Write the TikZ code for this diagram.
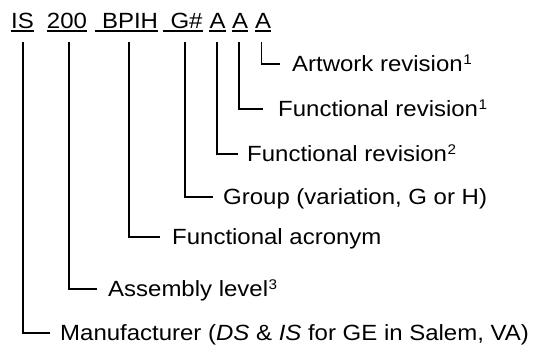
\documentclass[tikz,border=0pt]{standalone}
\usepackage{fontspec}
\setmainfont{Liberation Sans}[FakeStretch=1.09]
\newcommand\supr[1]{\kern0.5pt\raisebox{7pt}{\fontsize{14}{14}\selectfont #1}}
\begin{document}
\begin{tikzpicture}[x=1pt,y=-1pt,
  every node/.style={inner sep=0pt,font=\fontsize{22}{26}\selectfont,text height=15pt,text depth=0pt},
  code/.style={anchor=base},
  lbl/.style={anchor=west},
  conn/.style={line width=1.3pt},
  uline/.style={line width=1.3pt}]
\useasboundingbox (0,0) rectangle (539,348);
% code letters
\node[code] (is)   at (22.5,28) {IS};
\node[code] (lvl)  at (67,28)   {200};
\node[code] (bpih) at (130,28)  {BPIH};
\node[code] (grp)  at (186.5,28){G\#};
\node[code] (a1)   at (217.5,28){A};
\node[code] (a2)   at (240,28)  {A};
\node[code] (a3)   at (263,28)  {A};
% underlines
\draw[uline] ([yshift=-3pt]is.base west) -- ([yshift=-3pt]is.base east);
\draw[uline] ([yshift=-3pt]lvl.base west) -- ([yshift=-3pt]lvl.base east);
\draw[uline] ([xshift=-7pt,yshift=-3pt]bpih.base west) -- ([yshift=-3pt]bpih.base east);
\draw[uline] ([xshift=-7pt,yshift=-3pt]grp.base west) -- ([yshift=-3pt]grp.base east);
\draw[uline] ([yshift=-3pt]a1.base west) -- ([yshift=-3pt]a1.base east);
\draw[uline] ([yshift=-3pt]a2.base west) -- ([yshift=-3pt]a2.base east);
\draw[uline] ([yshift=-3pt]a3.base west) -- ([yshift=-3pt]a3.base east);
% labels
\node[lbl] (lart) at (292,64)  {Artwork revision\supr{1}};
\node[lbl] (lfr1) at (278,109) {Functional revision\supr{1}};
\node[lbl] (lfr2) at (247,154) {Functional revision\supr{2}};
\node[lbl] (lgrp) at (223,197) {Group (variation, G or H)};
\node[lbl] (lacr) at (172,237) {Functional acronym};
\node[lbl] (lasm) at (108,289) {Assembly level\supr{3}};
\node[lbl] (lman) at (60,333)  {Manufacturer (\textit{DS} \& \textit{IS} for GE in Salem, VA)};
% connectors
\draw[conn] ([xshift=-1.5pt,yshift=-14pt]a3.south) |- ([xshift=-12pt]lart.west);
\draw[conn] ([xshift=-1pt,yshift=-14pt]a2.south) |- ([xshift=-15pt]lfr1.west);
\draw[conn] ([xshift=-0.5pt,yshift=-14pt]a1.south) |- ([xshift=-9pt]lfr2.west);
\draw[conn] ([xshift=-1.5pt,yshift=-14pt]grp.south) |- ([xshift=-10pt]lgrp.west);
\draw[conn] ([xshift=-1pt,yshift=-14pt]bpih.south) |- ([xshift=-12pt]lacr.west);
\draw[conn] ([xshift=2pt,yshift=-14pt]lvl.south) |- ([xshift=-11pt]lasm.west);
\draw[conn] ([xshift=0.5pt,yshift=-14pt]is.south) |- ([xshift=-10pt]lman.west);
\end{tikzpicture}
\end{document}
